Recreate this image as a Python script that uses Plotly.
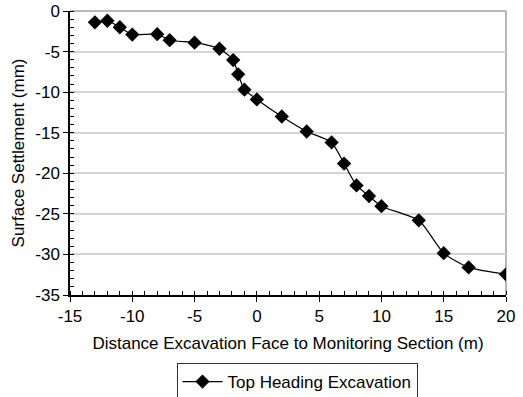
import plotly.graph_objects as go

distance_m = [-13, -12, -11, -10, -8, -7, -5, -3, -1.9, -1.5, -1, 0, 2, 4, 6, 7, 8, 9, 10, 13, 15, 17, 20]
settlement_mm = [-1.4, -1.2, -2.0, -2.9, -2.85, -3.6, -3.9, -4.65, -6.05, -7.8, -9.7, -10.9, -13.0,
                 -14.85, -16.2, -18.8, -21.5, -22.8, -24.05, -25.8, -29.85, -31.6, -32.45]
x_ticks = [-15, -10, -5, 0, 5, 10, 15, 20]
y_ticks = [0, -5, -10, -15, -20, -25, -30, -35]
series_name = "Top Heading Excavation"
x_title = "Distance Excavation Face to Monitoring Section (m)"
y_title = "Surface Settlement (mm)"

FONT = "Liberation Sans, Arial, sans-serif"
FS = 17

fig = go.Figure()
fig.add_trace(go.Scatter(
    x=distance_m, y=settlement_mm, name=series_name,
    mode="lines+markers",
    line=dict(color="black", width=1.2, shape="spline", smoothing=0.6),
    marker=dict(symbol="diamond", size=11, color="black"),
))

fig.update_layout(
    width=523, height=397,
    margin=dict(l=70, r=17, t=11, b=102),
    paper_bgcolor="white", plot_bgcolor="white",
    font=dict(family=FONT, size=FS, color="black"),
    showlegend=True,
    legend=dict(orientation="h", xref="container", yref="container",
                x=297 / 523, xanchor="center", y=(397 - 363) / 397, yanchor="top",
                bordercolor="#333333", borderwidth=1, font=dict(size=FS),
                itemwidth=40),
    xaxis=dict(range=[-15, 20], tickvals=x_ticks, ticktext=[str(v) for v in x_ticks],
               showline=True, linecolor="black", linewidth=1.5,
               ticks="outside", ticklen=5, tickcolor="black",
               minor=dict(dtick=1, ticks="inside", ticklen=4, tickcolor="black", showgrid=False),
               showgrid=False, zeroline=False, automargin=False,
               title=dict(text=x_title, standoff=12, font=dict(size=FS))),
    yaxis=dict(range=[-35, 0], tickvals=y_ticks, ticktext=[str(v) for v in y_ticks],
               showline=True, linecolor="black", linewidth=1.5,
               ticks="outside", ticklen=5, tickcolor="black",
               minor=dict(dtick=1, ticks="inside", ticklen=4, tickcolor="black", showgrid=False),
               showgrid=True, gridcolor="#d4d4d4", gridwidth=1.5, zeroline=False, automargin=False,
               title=dict(text=y_title, standoff=6, font=dict(size=FS))),
)

fig.add_shape(type="line", xref="paper", yref="paper", x0=1, x1=1, y0=0, y1=1,
              line=dict(color="#a0a0a0", width=1.5), layer="below")
fig.add_shape(type="line", xref="paper", yref="paper", x0=0, x1=1, y0=1, y1=1,
              line=dict(color="#a0a0a0", width=1.5), layer="below")

fig.write_html("out.html")
